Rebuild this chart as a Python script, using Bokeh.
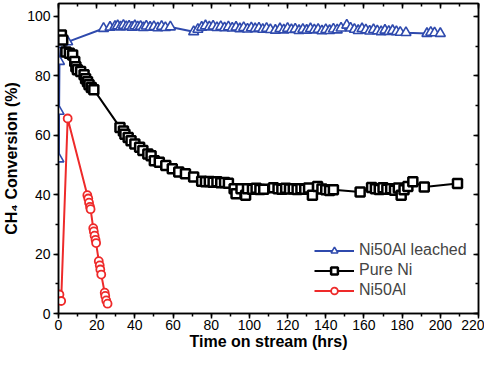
from bokeh.plotting import figure
from bokeh.models import (Range1d, LinearAxis, SingleIntervalTicker, Legend, LegendItem)
from bokeh.embed import file_html
from bokeh.resources import INLINE

# Ni50Al leached (blue triangles)
leached_t = [0.2, 0.3, 0.5, 1.5, 2.5, 3.1, 4.8, 23.6, 27, 29.6, 31, 32.5, 34, 35.5, 37, 38.5,
             40, 41.5, 43, 44.5, 46, 48, 50, 52, 54, 56, 58.6, 70.8, 73, 75, 77, 79, 81,
             83, 85, 87, 89, 91, 93, 95, 97, 99, 101, 103, 105, 107, 109, 111, 113.6, 116,
             118, 120, 122, 124, 126, 128, 130, 132, 134, 136, 138, 140, 142, 144, 146,
             148, 151, 153, 155, 157, 159, 161, 163, 165, 167, 169, 171, 173, 175, 177,
             179, 182, 193, 195, 197, 200]
leached_v = [52.0, 68.0, 84.8, 90.5, 91.5, 92.0, 91.4, 95.9, 96.3, 96.6, 96.8, 96.4, 96.9, 96.5,
             96.7, 96.3, 96.8, 96.4, 96.6, 96.2, 96.7, 96.3, 96.5, 96.1, 96.6, 96.2, 96.4,
             94.8, 95.6, 96.3, 96.8, 96.4, 96.7, 96.2, 96.5, 96.1, 96.4, 96.0, 96.3, 95.8,
             96.2, 95.7, 96.1, 95.8, 96.0, 95.6, 95.9, 95.5, 95.3, 95.8, 95.4, 95.9, 95.5,
             95.7, 95.2, 95.6, 95.3, 95.8, 95.4, 95.6, 95.1, 95.5, 95.2, 95.7, 95.4, 96.0,
             97.0, 96.0, 95.6, 95.2, 95.8, 95.4, 95.0, 95.5, 95.1, 94.8, 95.3, 94.9, 95.2,
             94.8, 94.6, 94.5, 94.2, 94.6, 94.4, 94.2]

# Pure Ni (black squares)
pure_t = [1.5, 2.2, 3.9, 5.7, 7.4, 8.5, 9.1, 9.9, 11.6, 13.4, 14.2, 15.2, 16.0, 17.2, 18.5,
          32.2, 34.0, 34.8, 36.5, 38.0, 40.0, 42.5, 44.2, 46.8, 48.5, 50.2, 52.8, 56.2,
          59.6, 63.0, 66.5, 70.8, 75, 77, 79, 81, 83, 85, 87, 89, 92, 93, 95.6, 98, 99,
          101.6, 103.5, 105.5, 107.5, 112.6, 115, 117, 119, 121, 123, 125, 127, 129, 131,
          133, 135.7, 138, 140, 142, 144, 158, 164, 166, 168, 170, 172, 174, 176, 178,
          179.5, 181, 183, 185.6, 191.6, 209]
pure_v = [93.7, 92.0, 88.0, 87.6, 87.0, 84.8, 83.0, 82.0, 81.4, 80.3, 79.0, 78.0, 77.0, 76.0,
          75.3, 62.6, 61.4, 60.3, 59.2, 58.1, 57.0, 55.9, 54.8, 53.7, 53.1, 51.4, 50.9,
          49.8, 48.7, 47.6, 47.0, 45.9, 44.5, 44.3, 44.4, 44.2, 44.3, 44.0, 44.1, 43.8,
          42.0, 40.3, 42.0, 39.8, 42.0, 41.8, 42.1, 41.7, 41.8, 42.3, 42.0, 41.8, 42.1,
          41.9, 42.0, 41.7, 42.0, 41.8, 42.2, 39.8, 42.7, 41.9, 41.6, 41.4, 41.6, 40.9,
          42.4, 42.0, 41.7, 42.3, 41.8, 42.0, 41.5, 42.2, 39.8, 41.6, 42.7, 44.3, 42.6,
          43.7]

# Ni50Al (red circles)
ni50al_t = [0.5, 1.4, 4.8, 15.1, 15.6, 16.0, 16.5, 16.8, 18.2, 18.5, 18.9, 19.4, 19.7, 21.1,
            21.6, 21.9, 22.4, 24.2, 24.5, 25.0, 25.7]
ni50al_v = [6.4, 4.2, 65.6, 39.8, 38.7, 37.3, 35.9, 35.1, 28.7, 27.6, 26.2, 24.8, 23.7, 17.6,
            16.2, 14.8, 13.1, 7.0, 5.9, 4.4, 3.3]

x_ticks_interval = 20
y_ticks_interval = 20

BLUE = "#2f4aad"
RED = "#ee2a2a"
FONT = "Liberation Sans"

p = figure(width=484, height=354, output_backend="svg", toolbar_location=None,
           x_range=Range1d(0, 220), y_range=Range1d(0, 104.3),
           min_border_left=51, min_border_right=6, min_border_top=3, min_border_bottom=41,
           x_axis_label="Time on stream (hrs)", y_axis_label="CH\u2084 Conversion (%)")
p.grid.visible = False
p.outline_line_color = "black"
p.outline_line_width = 1.5
p.background_fill_color = "white"

for ax, itv in ((p.xaxis[0], x_ticks_interval), (p.yaxis[0], y_ticks_interval)):
    ax.ticker = SingleIntervalTicker(interval=itv, num_minor_ticks=2)
    ax.major_tick_out = 5
    ax.major_tick_in = 0
    ax.minor_tick_out = 3
    ax.minor_tick_in = 0
    ax.axis_line_width = 1.5
    ax.major_tick_line_width = 1.5
    ax.minor_tick_line_width = 1.5
    ax.major_label_text_font = FONT
    ax.major_label_text_font_size = "14px"
    ax.major_label_text_color = "black"
    ax.axis_label_text_font = FONT
    ax.axis_label_text_font_size = "16px"
    ax.axis_label_text_font_style = "bold"
    ax.axis_label_text_color = "black"
p.xaxis[0].major_label_standoff = 1
p.xaxis[0].axis_label_standoff = 0
p.yaxis[0].major_label_standoff = 3
p.yaxis[0].axis_label_standoff = 4

top = LinearAxis(ticker=SingleIntervalTicker(interval=x_ticks_interval, num_minor_ticks=2))
right = LinearAxis(ticker=SingleIntervalTicker(interval=y_ticks_interval, num_minor_ticks=2))
for ax in (top, right):
    ax.major_tick_in = 5
    ax.major_tick_out = 0
    ax.minor_tick_in = 3
    ax.minor_tick_out = 0
    ax.axis_line_width = 1.5
    ax.major_tick_line_width = 1.5
    ax.minor_tick_line_width = 1.5
    ax.major_label_text_font_size = "1px"
    ax.major_label_text_color = None
    ax.major_label_standoff = 0
p.add_layout(top, "above")
p.add_layout(right, "right")

l1 = p.line(leached_t, leached_v, line_color=BLUE, line_width=2)
s1 = p.scatter(leached_t, leached_v, marker="triangle", size=10, line_color=BLUE,
               line_width=1.6, fill_color="white")
l2 = p.line(pure_t, pure_v, line_color="black", line_width=2)
s2 = p.scatter(pure_t, pure_v, marker="square", size=9, line_color="black",
               line_width=2.5, fill_color="white")
l3 = p.line(ni50al_t, ni50al_v, line_color=RED, line_width=2)
s3 = p.scatter(ni50al_t, ni50al_v, marker="circle", size=8, line_color=RED,
               line_width=1.8, fill_color="white")

legend = Legend(items=[LegendItem(label="Ni50Al leached", renderers=[l1, s1]),
                       LegendItem(label="Pure Ni", renderers=[l2, s2]),
                       LegendItem(label="Ni50Al", renderers=[l3, s3])],
                location=(256, 14), glyph_width=40, glyph_height=17,
                label_text_font=FONT, label_text_font_size="16px",
                spacing=2, padding=2, margin=0, border_line_color=None,
                background_fill_alpha=0)
p.add_layout(legend, "center")

open("out.html", "w").write(file_html(p, INLINE))
